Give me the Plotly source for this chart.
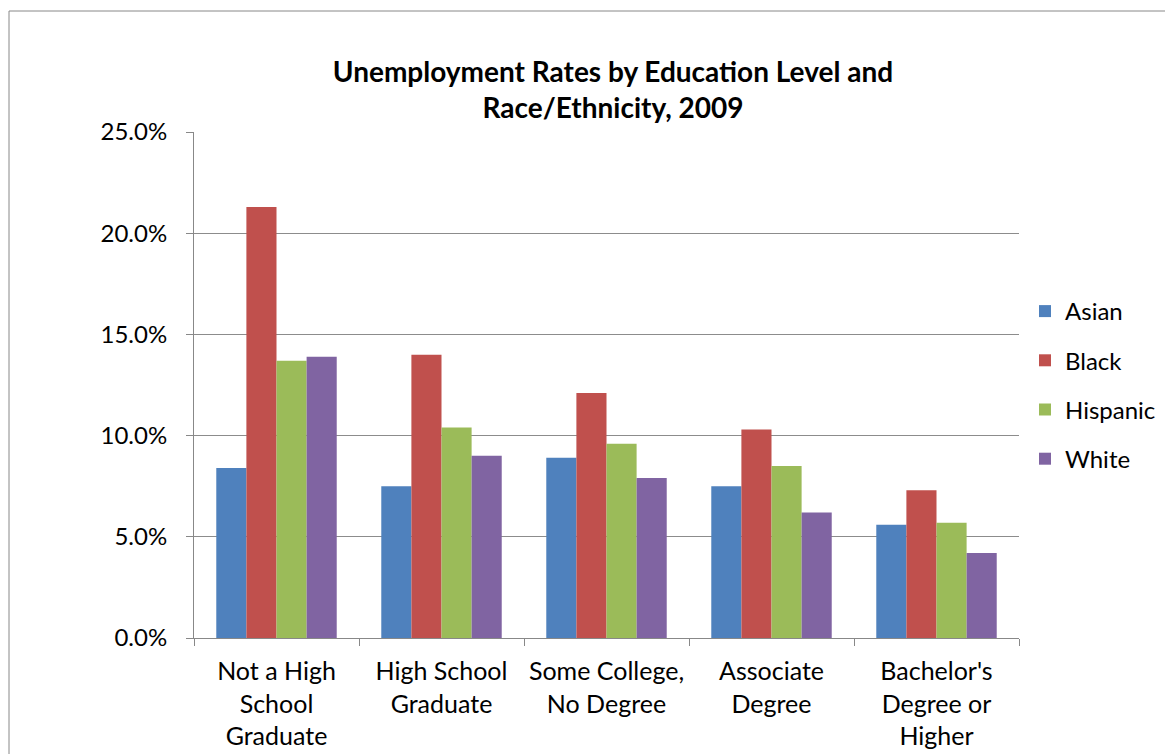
import plotly.graph_objects as go

categories = ["Not a High<br>School<br>Graduate", "High School<br>Graduate",
              "Some College,<br>No Degree", "Associate<br>Degree",
              "Bachelor's<br>Degree or<br>Higher"]
asian = [8.4, 7.5, 8.9, 7.5, 5.6]
black = [21.3, 14.0, 12.1, 10.3, 7.3]
hispanic = [13.7, 10.4, 9.6, 8.5, 5.7]
white = [13.9, 9.0, 7.9, 6.2, 4.2]
series_names = ["Asian", "Black", "Hispanic", "White"]
series_colors = ["#4F81BD", "#C0504D", "#9BBB59", "#8064A2"]
y_ticks = [0, 5, 10, 15, 20, 25]
y_ticklabels = ["0.0%", "5.0%", "10.0%", "15.0%", "20.0%", "25.0%"]
title_text = "Unemployment Rates by Education Level and<br>Race/Ethnicity, 2009"

FONT = "Lato, 'Open Sans', sans-serif"

fig = go.Figure()
for name, vals, col in zip(series_names, [asian, black, hispanic, white], series_colors):
    fig.add_trace(go.Bar(x=categories, y=vals, name=name, marker_color=col,
                         marker_line_width=0, legendgroup=name))

# page has an 8px body margin; figure sized so it fits the window
OFF = 8
W, H = 1173 - OFF, 754 - OFF
L, R, T, B = 194 - OFF, 154, 132 - OFF, 116
pw, ph = W - L - R, H - T - B

fig.update_layout(
    width=W, height=H,
    margin=dict(l=L, r=R, t=T, b=B, pad=0),
    paper_bgcolor="white", plot_bgcolor="white",
    barmode="group", bargap=0.27, bargroupgap=0,
    font=dict(family=FONT, size=24, color="#000000"),
    title=dict(text="<b>" + title_text + "</b>", x=(613 - OFF) / W, xanchor="center",
               y=1 - (82 - OFF) / H, yanchor="middle",
               font=dict(family=FONT, size=28, color="#000000")),
    legend=dict(x=(1025 - 194) / pw, xanchor="left", y=0.5, yanchor="middle",
                font=dict(family=FONT, size=24), tracegroupgap=15,
                itemwidth=30, bgcolor="rgba(0,0,0,0)"),
    showlegend=True,
)
fig.update_xaxes(showline=True, linecolor="#888888", linewidth=1,
                 ticks="outside", tickson="boundaries", ticklen=7, tickcolor="#888888",
                 ticklabelstandoff=11, automargin=False,
                 showgrid=False, tickfont=dict(family=FONT, size=25))
fig.update_yaxes(range=[0, 25], tickvals=y_ticks, ticktext=y_ticklabels,
                 showline=True, linecolor="#888888", linewidth=1,
                 ticks="outside", ticklen=7, tickcolor="#888888",
                 ticklabelstandoff=14, automargin=False,
                 showgrid=True, gridcolor="#8c8c8c", gridwidth=1,
                 zeroline=False, tickfont=dict(family=FONT, size=24))

# outer chart border
fig.add_shape(type="rect", xref="paper", yref="paper",
              x0=(1 - L) / pw, x1=(W + 20 - L) / pw,
              y0=-(B + 20) / ph, y1=(ph + T - 3) / ph,
              line=dict(color="#888888", width=1), layer="below")

fig.write_html("out.html")
